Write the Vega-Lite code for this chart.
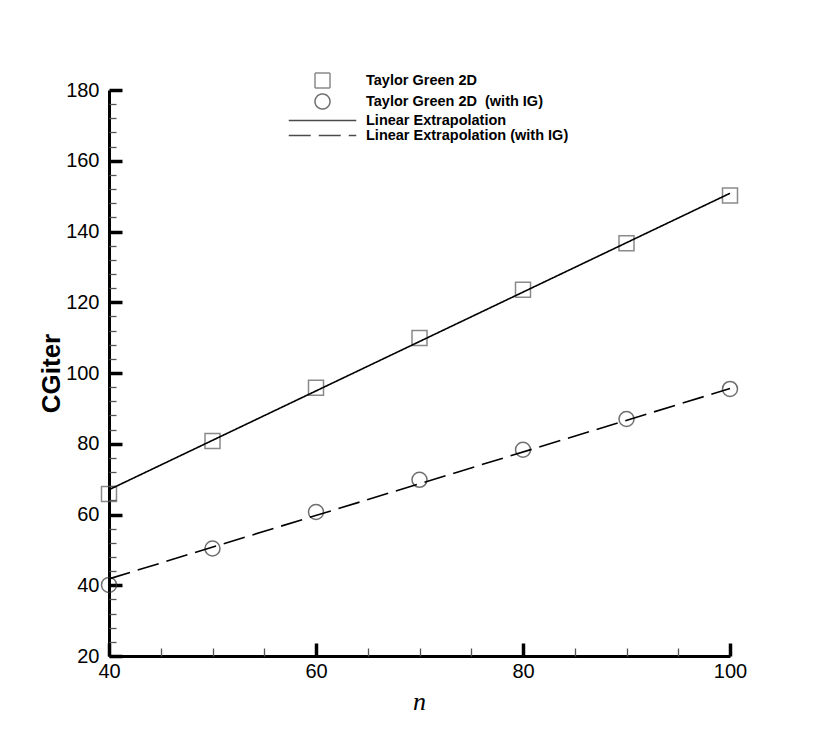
{
  "$schema": "https://vega.github.io/schema/vega-lite/v6.json",
  "width": 621,
  "height": 566,
  "autosize": {"type": "none"},
  "padding": {"left": 109, "top": 90, "right": 100, "bottom": 83},
  "background": "white",
  "config": {"view": {"stroke": null}, "font": "Liberation Sans"},
  "datasets": {
    "pts": [
      {"n": 40, "cg": 65.8, "series": "Taylor Green 2D"},
      {"n": 50, "cg": 80.8, "series": "Taylor Green 2D"},
      {"n": 60, "cg": 95.8, "series": "Taylor Green 2D"},
      {"n": 70, "cg": 109.9, "series": "Taylor Green 2D"},
      {"n": 80, "cg": 123.5, "series": "Taylor Green 2D"},
      {"n": 90, "cg": 136.7, "series": "Taylor Green 2D"},
      {"n": 100, "cg": 150.2, "series": "Taylor Green 2D"},
      {"n": 40, "cg": 40.1, "series": "Taylor Green 2D\u00a0 (with IG)"},
      {"n": 50, "cg": 50.4, "series": "Taylor Green 2D\u00a0 (with IG)"},
      {"n": 60, "cg": 60.7, "series": "Taylor Green 2D\u00a0 (with IG)"},
      {"n": 70, "cg": 69.8, "series": "Taylor Green 2D\u00a0 (with IG)"},
      {"n": 80, "cg": 78.3, "series": "Taylor Green 2D\u00a0 (with IG)"},
      {"n": 90, "cg": 87.0, "series": "Taylor Green 2D\u00a0 (with IG)"},
      {"n": 100, "cg": 95.5, "series": "Taylor Green 2D\u00a0 (with IG)"}
    ],
    "lines": [
      {"n": 40, "cg": 67.0, "series": "Linear Extrapolation"},
      {"n": 100, "cg": 150.8, "series": "Linear Extrapolation"},
      {"n": 40, "cg": 41.8, "series": "Linear Extrapolation (with IG)"},
      {"n": 100, "cg": 95.6, "series": "Linear Extrapolation (with IG)"}
    ]
  },
  "resolve": {"axis": {"x": "independent", "y": "independent"}},
  "layer": [
    {
      "data": {"name": "pts"},
      "mark": {"type": "point", "filled": false, "size": 225, "strokeWidth": 1.5},
      "encoding": {
        "x": {
          "field": "n", "type": "quantitative",
          "scale": {"domain": [40, 100], "nice": false, "zero": false},
          "axis": {
            "orient": "bottom", "values": [40, 60, 80, 100], "grid": false,
            "domainColor": "black", "domainWidth": 3,
            "tickColor": "black", "tickWidth": 3.5, "tickSize": -13,
            "labelPadding": 18, "labelFontSize": 20, "labelColor": "black",
            "labelFont": "Liberation Sans", "labelFlush": false,
            "title": "n", "titleFont": "Liberation Serif", "titleFontStyle": "italic",
            "titleFontWeight": "normal", "titleFontSize": 26, "titleColor": "black",
            "titleX": 310, "titleY": 53, "titleBaseline": "alphabetic", "titleAlign": "center"
          }
        },
        "y": {
          "field": "cg", "type": "quantitative",
          "scale": {"domain": [20, 180], "nice": false, "zero": false},
          "axis": {
            "orient": "left", "values": [20, 40, 60, 80, 100, 120, 140, 160, 180], "grid": false,
            "domainColor": "black", "domainWidth": 3,
            "tickColor": "black", "tickWidth": 3.5, "tickSize": -13,
            "labelPadding": 23, "labelFontSize": 20, "labelColor": "black",
            "labelFont": "Liberation Sans", "labelFlush": false,
            "title": "CGiter", "titleFont": "Liberation Sans", "titleFontWeight": "bold",
            "titleFontSize": 26, "titleColor": "black", "titleAngle": -90,
            "titleX": -50, "titleY": 283, "titleBaseline": "alphabetic", "titleAlign": "center"
          }
        },
        "shape": {
          "field": "series", "type": "nominal",
          "scale": {
            "domain": ["Taylor Green 2D", "Taylor Green 2D\u00a0 (with IG)", "Linear Extrapolation", "Linear Extrapolation (with IG)"],
            "range": ["square", "circle", "M-4.5,0H4.5", "M-4.5,0H4.5"]
          },
          "legend": {
            "orient": "none", "legendX": 205, "legendY": -18, "title": null,
            "padding": 0, "rowPadding": 0, "labelOffset": 35,
            "labelFont": "Liberation Sans", "labelFontWeight": "bold", "labelFontSize": 14.5,
            "labelColor": "black", "symbolSize": 225, "symbolStrokeWidth": 1.5,
            "symbolFillColor": "transparent", "labelLimit": 400
          }
        },
        "color": {
          "field": "series", "type": "nominal",
          "scale": {
            "domain": ["Taylor Green 2D", "Taylor Green 2D\u00a0 (with IG)", "Linear Extrapolation", "Linear Extrapolation (with IG)"],
            "range": ["#5a5a5a", "#333333", "#000000", "#000000"]
          }
        }
      }
    },
    {
      "data": {"name": "lines"},
      "mark": {"type": "line", "strokeWidth": 1.6},
      "encoding": {
        "x": {
          "field": "n", "type": "quantitative",
          "axis": {
            "orient": "bottom", "values": [45, 50, 55, 65, 70, 75, 85, 90, 95], "grid": false,
            "domain": false, "labels": false, "title": null, "offset": 0,
            "tickColor": "#555555", "tickWidth": 1.3, "tickSize": -8
          }
        },
        "y": {
          "field": "cg", "type": "quantitative",
          "axis": {
            "orient": "left",
            "values": [24, 28, 32, 36, 44, 48, 52, 56, 64, 68, 72, 76, 84, 88, 92, 96, 104, 108, 112, 116, 124, 128, 132, 136, 144, 148, 152, 156, 164, 168, 172, 176],
            "grid": false, "domain": false, "labels": false, "title": null, "offset": 0,
            "tickColor": "#555555", "tickWidth": 1.3, "tickSize": -7
          }
        },
        "detail": {"field": "series", "type": "nominal"},
        "strokeDash": {
          "field": "series", "type": "nominal",
          "scale": {
            "domain": ["Taylor Green 2D", "Taylor Green 2D\u00a0 (with IG)", "Linear Extrapolation", "Linear Extrapolation (with IG)"],
            "range": [[1, 0], [1, 0], [1, 0], [22, 8]]
          }
        },
        "color": {"field": "series", "type": "nominal"}
      }
    }
  ]
}
